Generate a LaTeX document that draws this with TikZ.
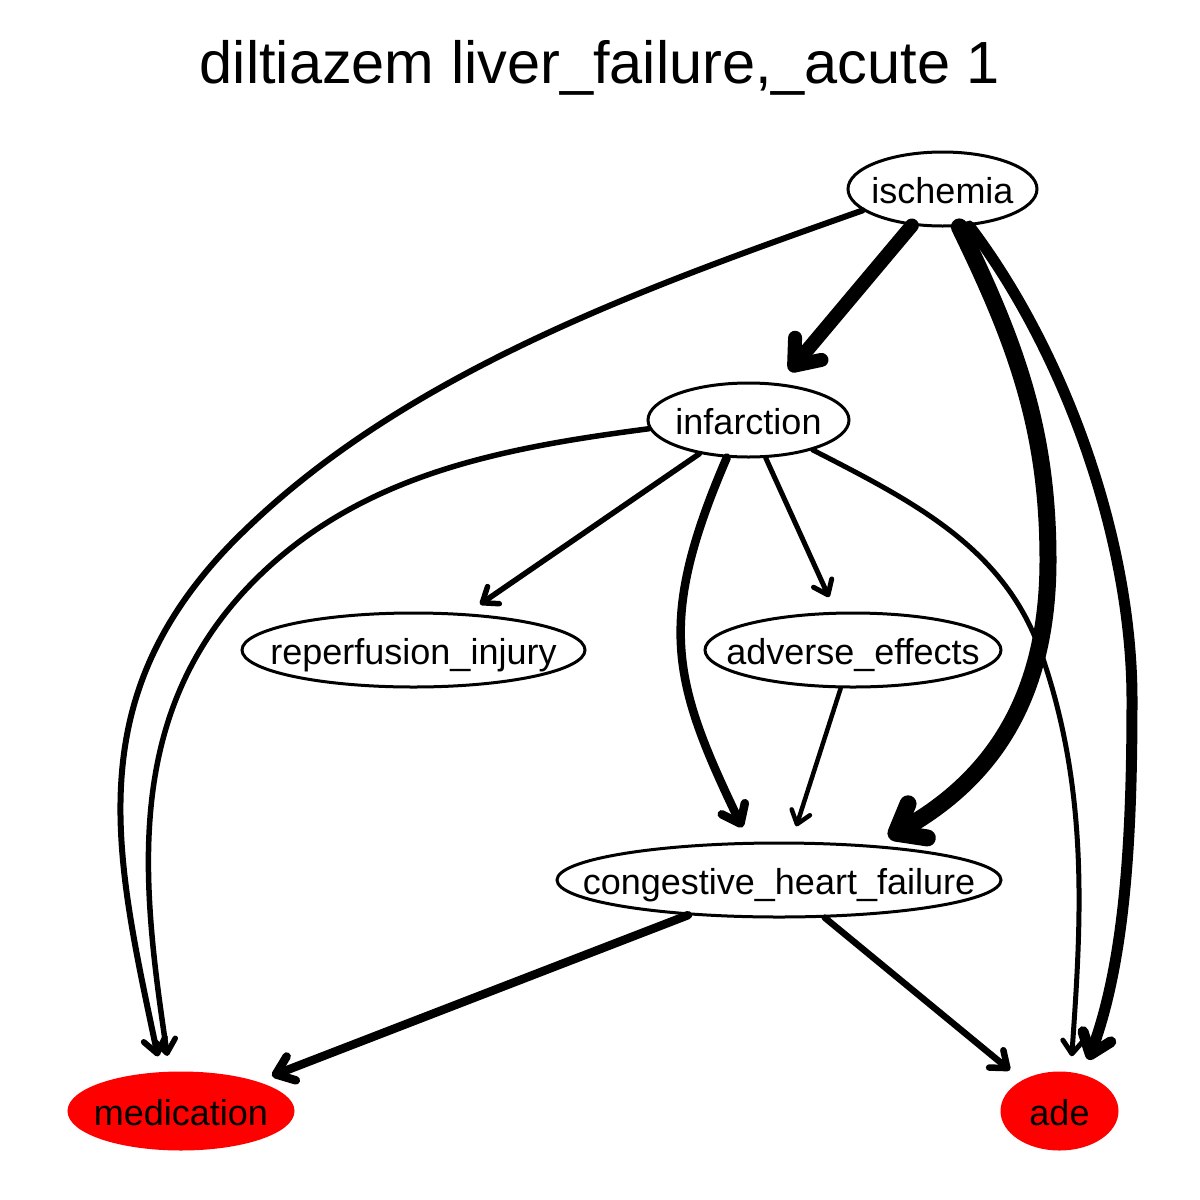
\documentclass[tikz,border=0pt]{standalone}
\usepackage{fontspec}
\setmainfont{Liberation Sans}
\usetikzlibrary{arrows.meta,shapes.geometric}
\newcommand\ndtext[1]{\makebox[0pt]{#1}}
\begin{document}
\begin{tikzpicture}[x=1pt,y=-1pt,
  nd/.style={ellipse, draw, line width=3pt, inner sep=0pt, minimum height=74pt,
    font=\fontsize{36}{40}\selectfont, text height=32pt, text depth=4pt},
  reded/.style={nd, fill=red, draw=red, minimum height=76pt},
  e/.style={draw, line cap=round, line join=round, shorten >=16pt,
    -{Straight Barb[length=8pt 1.0, width=12pt 1.6, round]}}
]
\fill[white] (0,0) rectangle (1200,1200);
\node[font=\fontsize{59.5}{66}\selectfont, anchor=base] (title) at (600,83) {diltiazem liver\_failure,\_acute 1};

\node[nd, minimum width=189pt] (isch) at (942.5,189) {\ndtext{ischemia}};
\node[nd, minimum width=201pt] (inf) at (748.5,420) {\ndtext{infarction}};
\node[nd, minimum width=343pt] (rep) at (413.5,650) {\ndtext{reperfusion\_injury}};
\node[nd, minimum width=296pt] (adv) at (853,650) {\ndtext{adverse\_effects}};
\node[nd, minimum width=444pt] (chf) at (779,880) {\ndtext{congestive\_heart\_failure}};
\node[reded, minimum width=224pt] (med) at (181,1111) {\ndtext{medication}};
\node[reded, minimum width=115pt] (ade) at (1059.5,1111) {\ndtext{ade}};

\draw[e, line width=14pt] (isch) -- (inf);
\draw[e, line width=6pt] (isch.195) .. controls (637,290) and (394,377) .. (230,545)
   .. controls (78,703) and (116,858) .. (med.117);
\draw[e, line width=17pt] (isch.294) .. controls (1016,343) and (1048,430) .. (1048,560)
   .. controls (1048,700) and (990,780) .. (chf.20);
\draw[e, line width=11pt] (isch.306) .. controls (1065,352) and (1132,540) .. (1132,700)
   .. controls (1132,840) and (1125,960) .. (ade.57);
\draw[e, line width=5.5pt] (inf.185) .. controls (502,448) and (361,474) .. (255,580)
   .. controls (121,714) and (142,885) .. (med.106);
\draw[e, line width=5.5pt] (inf) -- (rep);
\draw[e, line width=8.5pt] (inf.240) .. controls (656,622) and (672,681) .. (chf.128);
\draw[e, line width=5pt] (inf) -- (adv);
\draw[e, line width=5pt] (inf.335) .. controls (910,500) and (1003,546) .. (1040,650)
   .. controls (1090,791) and (1081,924) .. (ade.74);
\draw[e, line width=4.5pt] (adv) -- (chf);
\draw[e, line width=8.5pt] (chf) -- (med);
\draw[e, line width=6.5pt] (chf) -- (ade);
\end{tikzpicture}
\end{document}
